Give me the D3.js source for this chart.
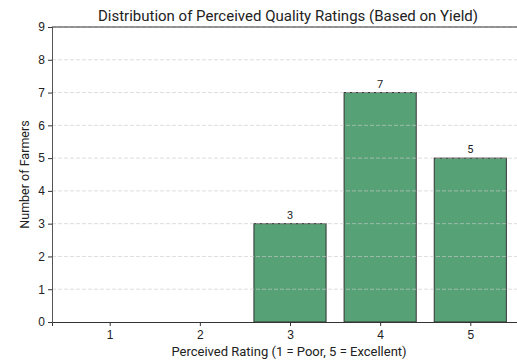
<!DOCTYPE html>
<html>
<head>
<meta charset="utf-8">
<script src="https://cdn.jsdelivr.net/npm/d3@7"></script>
<style>
  body { margin: 0; background: #fff; }
  svg { display: block; font-family: Roboto, "Open Sans", sans-serif; }
</style>
</head>
<body>
<svg id="chart" width="517" height="360"></svg>
<script>
const ratings = [1, 2, 3, 4, 5];
const counts = [0, 0, 3, 7, 5];
const yTicks = [0, 1, 2, 3, 4, 5, 6, 7, 8, 9];

const margin = { top: 27, right: 0, bottom: 38, left: 52 };
const W = 517, H = 360;
const plotRight = 528; // plot runs a bit past the image edge

const svg = d3.select("#chart");

const x = d3.scaleLinear().domain([0.36, 5.64]).range([margin.left, plotRight]);
const y = d3.scaleLinear().domain([0, 9]).range([H - margin.bottom, margin.top]);
const bw = x(1.4) - x(0.6);

// bars
svg.selectAll(".bar")
  .data(ratings)
  .enter().append("rect")
  .attr("class", "bar")
  .attr("x", (d) => x(d) - bw / 2)
  .attr("y", (d, i) => y(counts[i]))
  .attr("width", bw)
  .attr("height", (d, i) => y(0) - y(counts[i]))
  .attr("fill", "#57a177")
  .attr("stroke", "#333")
  .attr("stroke-width", 1);

// grid on top of bars
svg.append("g")
  .selectAll("line")
  .data(yTicks.slice(1))
  .enter().append("line")
  .attr("x1", margin.left).attr("x2", plotRight)
  .attr("y1", (d) => y(d)).attr("y2", (d) => y(d))
  .attr("stroke", "#ccc")
  .attr("stroke-width", 0.8)
  .attr("stroke-dasharray", "4,2")
  .attr("opacity", 0.8);

// value labels
svg.selectAll(".val")
  .data(ratings.filter((d, i) => counts[i] > 0))
  .enter().append("text")
  .attr("x", (d) => x(d))
  .attr("y", (d) => y(counts[d - 1]) - 5)
  .attr("text-anchor", "middle")
  .style("font-size", "11px")
  .style("fill", "#222")
  .text((d) => counts[d - 1]);

// axes
svg.append("g")
  .attr("transform", `translate(0,${y(0)})`)
  .call(d3.axisBottom(x).tickValues(ratings).tickFormat(d3.format("d")).tickSizeOuter(0).tickSize(4).tickPadding(4))
  .call((g) => g.select(".domain").attr("stroke", "#333"))
  .call((g) => g.selectAll("line").attr("stroke", "#333"))
  .call((g) => g.selectAll("text").style("font-size", "12px").style("fill", "#222"));

svg.append("g")
  .attr("transform", `translate(${margin.left},0)`)
  .call(d3.axisLeft(y).tickValues(yTicks).tickSizeOuter(0).tickSize(4).tickPadding(3))
  .call((g) => g.select(".domain").attr("stroke", "#555"))
  .call((g) => g.selectAll("line").attr("stroke", "#333"))
  .call((g) => g.selectAll("text").style("font-size", "12px").style("fill", "#222"));

// top spine
svg.append("line")
  .attr("x1", margin.left).attr("x2", plotRight)
  .attr("y1", y(9)).attr("y2", y(9))
  .attr("stroke", "#333");

// title and labels
svg.append("text")
  .attr("x", (margin.left + plotRight) / 2 - 2)
  .attr("y", 21)
  .attr("text-anchor", "middle")
  .style("font-size", "15px")
  .style("fill", "#222")
  .text("Distribution of Perceived Quality Ratings (Based on Yield)");

svg.append("text")
  .attr("x", (margin.left + plotRight) / 2 - 1)
  .attr("y", 356)
  .attr("text-anchor", "middle")
  .style("font-size", "13px")
  .style("fill", "#222")
  .text("Perceived Rating (1 = Poor, 5 = Excellent)");

svg.append("text")
  .attr("transform", `translate(29,${(y(0) + y(9)) / 2}) rotate(-90)`)
  .attr("text-anchor", "middle")
  .style("font-size", "12.5px")
  .style("fill", "#222")
  .text("Number of Farmers");
</script>
</body>
</html>
